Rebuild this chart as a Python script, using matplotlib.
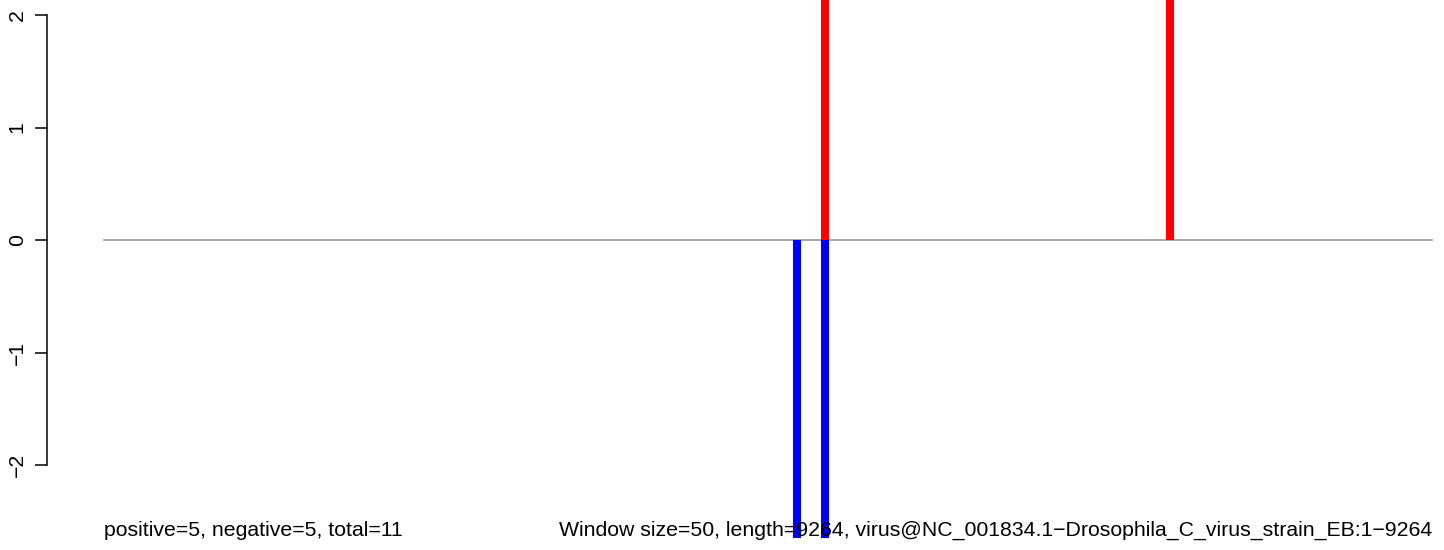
import matplotlib
matplotlib.use("Agg")
import matplotlib.pyplot as plt

plt.rcParams['font.family'] = ['Liberation Sans', 'DejaVu Sans']

genome_len = 9264
window = 50
# window positions and counts
pos_x = [5030, 7436]
pos_y = [3.0, 3.0]
neg_x = [4834, 5030]
neg_y = [-2.65, -2.65]
yticks = [-2, -1, 0, 1, 2]
left_note = "positive=5, negative=5, total=11"
right_note = ("Window size=50, length=9264, "
              "virus@NC_001834.1\u2212Drosophila_C_virus_strain_EB:1\u22129264")

W, H = 1444, 550
fig = plt.figure(figsize=(W / 100, H / 100), dpi=100)
ax = fig.add_axes([0, 0, 1, 1])

# map genome coords so 0 -> px 104 and genome_len -> px 1432
sx = 1328 / genome_len
ax.set_xlim(-104 / sx, (W - 104) / sx)
# 112.5 px per unit, zero at px 240 from top
ax.set_ylim(-(H - 240) / 112.5, 240 / 112.5)

ax.plot([0, genome_len], [0, 0], color='#9a9a9a', lw=1.2, zorder=1)
ax.vlines(pos_x, 0, pos_y, color='#ff0000', lw=5.8, capstyle='butt', zorder=2)
ax.vlines(neg_x, 0, neg_y, color='#0000ff', lw=5.8, capstyle='butt', zorder=2)

for s in ['top', 'right', 'bottom']:
    ax.spines[s].set_visible(False)
ax.spines['left'].set_position(('data', (47 - 104) / sx))
ax.spines['left'].set_bounds(-2, 2)
ax.spines['left'].set_linewidth(1.1)
ax.set_yticks(yticks)
ax.set_yticklabels([str(t).replace('-', '\u2212') for t in yticks],
                   rotation=90, va='center', fontsize=15.3)
ax.tick_params(axis='y', direction='out', length=8.6, width=1.1, pad=6)
ax.set_xticks([])

ax.text(0, -2.58, left_note, ha='left', va='center', fontsize=15.3)
ax.text(genome_len, -2.58, right_note, ha='right', va='center', fontsize=15.3)

fig.savefig("out.png", dpi=100)
